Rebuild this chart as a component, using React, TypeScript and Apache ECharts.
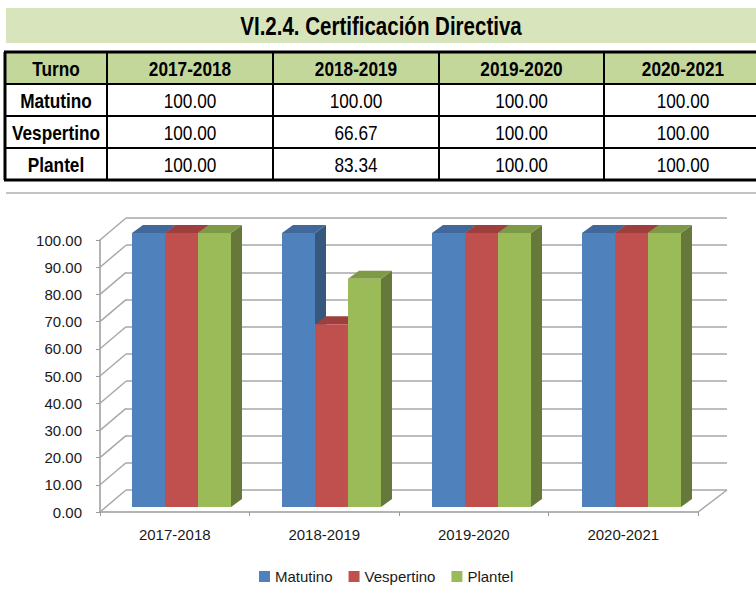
import React, { useEffect, useRef } from "react";
import * as echarts from "echarts";

// ---------- data ----------
const chartTitle = "VI.2.4. Certificación Directiva";
const rowHeaderLabel = "Turno";
const categories = ["2017-2018", "2018-2019", "2019-2020", "2020-2021"];
const seriesNames = ["Matutino", "Vespertino", "Plantel"];
const matutino = [100.0, 100.0, 100.0, 100.0];
const vespertino = [100.0, 66.67, 100.0, 100.0];
const plantel = [100.0, 83.34, 100.0, 100.0];
const yTicks = [0, 10, 20, 30, 40, 50, 60, 70, 80, 90, 100];

// ---------- style ----------
const FONT = "'Liberation Sans', Arial, Helvetica, sans-serif";
const NARROW = 0.82;
const faceColors = [
  { front: "#4f81bd", top: "#41689a", side: "#36587f" },
  { front: "#c0504d", top: "#9e3f3d", side: "#853634" },
  { front: "#9bbb59", top: "#7e9a47", side: "#67793a" },
];
const BAR_W = 33;
const BAR_DX = 11;
const BAR_DY = -8;
const WALL_DX = 26;
const WALL_DY = -22;

const colEdges = [5, 107, 273, 439, 604, 762];
const rowEdges = [52, 84, 116, 148, 180];

function buildTableGraphics() {
  const els: any[] = [];
  els.push({
    type: "rect",
    shape: { x: 6, y: 8, width: 750, height: 35 },
    style: { fill: "#d8e4bc" },
    silent: true,
  });
  els.push({
    type: "text",
    x: 381,
    y: 26,
    scaleX: NARROW,
    style: {
      text: chartTitle,
      fontFamily: FONT,
      fontSize: 25,
      fontWeight: "bold",
      fill: "#000",
      align: "center",
      verticalAlign: "middle",
    },
    silent: true,
  });
  els.push({
    type: "rect",
    shape: { x: colEdges[0], y: rowEdges[0], width: 756 - colEdges[0], height: rowEdges[1] - rowEdges[0] },
    style: { fill: "#c4d79b" },
    silent: true,
  });
  rowEdges.forEach((y, i) => {
    const outer = i === 0 || i === rowEdges.length - 1;
    els.push({
      type: "line",
      shape: { x1: colEdges[0] - 1, y1: y, x2: 760, y2: y },
      style: { stroke: "#000", lineWidth: outer ? 3 : 2 },
      silent: true,
    });
  });
  colEdges.slice(0, 5).forEach((x, i) => {
    els.push({
      type: "line",
      shape: { x1: x, y1: rowEdges[0], x2: x, y2: rowEdges[rowEdges.length - 1] },
      style: { stroke: "#000", lineWidth: i === 0 ? 3 : 2 },
      silent: true,
    });
  });
  const txt = (s: string, cx: number, cy: number, bold: boolean) => ({
    type: "text",
    x: cx,
    y: cy,
    scaleX: NARROW,
    style: {
      text: s,
      fontFamily: FONT,
      fontSize: 21,
      fontWeight: bold ? "bold" : "normal",
      fill: "#000",
      align: "center",
      verticalAlign: "middle",
    },
    silent: true,
  });
  const cx = (c: number) => (colEdges[c] + colEdges[c + 1]) / 2;
  const cy = (r: number) => (rowEdges[r] + rowEdges[r + 1]) / 2 + 1;
  els.push(txt(rowHeaderLabel, cx(0), cy(0), true));
  categories.forEach((c, k) => els.push(txt(c, cx(k + 1), cy(0), true)));
  const all = [matutino, vespertino, plantel];
  seriesNames.forEach((n, r) => {
    els.push(txt(n, cx(0), cy(r + 1), true));
    all[r].forEach((v, k) => els.push(txt(v.toFixed(2), cx(k + 1), cy(r + 1), false)));
  });
  // chart area top border
  els.push({
    type: "line",
    shape: { x1: 6, y1: 193, x2: 756, y2: 193 },
    style: { stroke: "#c4c4c4", lineWidth: 2 },
    silent: true,
  });
  return els;
}

function makeBarSeries(i: number, values: number[]) {
  const c = faceColors[i];
  return {
    type: "custom",
    name: seriesNames[i],
    xAxisIndex: 2,
    yAxisIndex: 2,
    z: 10 + i,
    itemStyle: { color: c.front },
    data: values.map((v, k) => [k, v]),
    encode: { x: 0, y: 1 },
    renderItem: (params: any, api: any) => {
      const cat = api.value(0);
      const val = api.value(1);
      const base = api.coord([cat, 0]);
      const top = api.coord([cat, val]);
      const x0 = base[0] - 1.5 * BAR_W + i * BAR_W;
      const x1 = x0 + BAR_W;
      const yt = top[1];
      const yb = base[1];
      return {
        type: "group",
        children: [
          {
            type: "polygon",
            shape: { points: [[x1, yt], [x1 + BAR_DX, yt + BAR_DY], [x1 + BAR_DX, yb + BAR_DY], [x1, yb]] },
            style: { fill: c.side },
          },
          {
            type: "polygon",
            shape: { points: [[x0, yt], [x1, yt], [x1 + BAR_DX, yt + BAR_DY], [x0 + BAR_DX, yt + BAR_DY]] },
            style: { fill: c.top },
          },
          {
            type: "rect",
            shape: { x: x0, y: yt, width: BAR_W, height: yb - yt },
            style: { fill: c.front },
          },
        ],
      };
    },
  };
}

export default function App() {
  const ref = useRef<HTMLDivElement>(null);
  useEffect(() => {
    if (!ref.current) return;
    const chart = echarts.init(ref.current, undefined, { renderer: "svg" });
    const axisGray = "#9a9a9a";
    const labelStyle = { fontFamily: FONT, fontSize: 15, color: "#1a1a1a" };
    const option: any = {
      animation: false,
      backgroundColor: "#ffffff",
      grid: [
        { left: 100, top: 240, width: 598, height: 272, containLabel: false, outerBoundsMode: "none" },
        { left: 126, top: 218, width: 601, height: 272, containLabel: false, outerBoundsMode: "none" },
        { left: 106.5, top: 233, width: 600, height: 274, containLabel: false, outerBoundsMode: "none" },
      ],
      xAxis: [
        {
          gridIndex: 0,
          type: "category",
          data: categories,
          boundaryGap: true,
          axisLine: { show: true, lineStyle: { color: axisGray, width: 1.5 } },
          axisTick: { show: true, alignWithLabel: false, length: 4, lineStyle: { color: axisGray } },
          axisLabel: { ...labelStyle, margin: 15 },
          splitLine: { show: false },
        },
        {
          gridIndex: 1,
          type: "category",
          data: categories,
          show: false,
        },
        {
          gridIndex: 2,
          type: "category",
          data: categories,
          show: false,
        },
      ],
      yAxis: [
        {
          gridIndex: 0,
          type: "value",
          min: 0,
          max: 100,
          interval: 10,
          axisLine: { show: true, lineStyle: { color: axisGray, width: 1.5 } },
          axisTick: { show: true, length: 4, lineStyle: { color: axisGray } },
          axisLabel: { ...labelStyle, margin: 18, formatter: (v: number) => v.toFixed(2) },
          splitLine: { show: false },
        },
        {
          gridIndex: 1,
          type: "value",
          min: 0,
          max: 100,
          interval: 10,
          axisLine: { show: false },
          axisTick: { show: false },
          axisLabel: { show: false },
          splitLine: { show: true, lineStyle: { color: "#bdbdbd", width: 2 } },
        },
        {
          gridIndex: 2,
          type: "value",
          min: 0,
          max: 100,
          show: false,
          splitLine: { show: false },
        },
      ],
      legend: {
        data: seriesNames,
        left: 259,
        top: 569,
        padding: 0,
        icon: "rect",
        itemWidth: 11,
        itemHeight: 11,
        itemGap: 16,
        textStyle: { fontFamily: FONT, fontSize: 15, color: "#1a1a1a" },
      },
      graphic: buildTableGraphics(),
      series: [
        {
          type: "custom",
          name: "wall",
          xAxisIndex: 0,
          yAxisIndex: 0,
          silent: true,
          z: 1,
          data: yTicks.map((v) => [0, v]),
          encode: { x: 0, y: 1 },
          renderItem: (params: any, api: any) => {
            const cs = params.coordSys;
            const p = api.coord([0, api.value(1)]);
            return {
              type: "line",
              shape: { x1: cs.x, y1: p[1], x2: cs.x + WALL_DX, y2: p[1] + WALL_DY },
              style: { stroke: "#a8a8a8", lineWidth: 1.5 },
            };
          },
        },
        {
          type: "custom",
          name: "floor",
          xAxisIndex: 0,
          yAxisIndex: 0,
          silent: true,
          z: 1,
          data: [[categories.length - 1, 0]],
          encode: { x: 0, y: 1 },
          renderItem: (params: any, api: any) => {
            const cs = params.coordSys;
            const p = api.coord([api.value(0), api.value(1)]);
            const xr = cs.x + cs.width;
            return {
              type: "line",
              shape: { x1: xr, y1: p[1], x2: xr + WALL_DX + 3, y2: p[1] + WALL_DY },
              style: { stroke: "#a8a8a8", lineWidth: 1.5 },
            };
          },
        },
        makeBarSeries(0, matutino),
        makeBarSeries(1, vespertino),
        makeBarSeries(2, plantel),
      ],
    };
    chart.setOption(option);
    return () => chart.dispose();
  }, []);
  return (
    <div
      ref={ref}
      style={{ position: "absolute", left: 0, top: 0, width: 756, height: 600, background: "#fff" }}
    />
  );
}
